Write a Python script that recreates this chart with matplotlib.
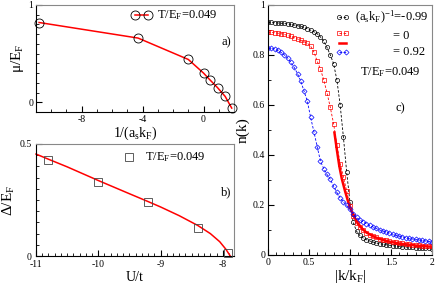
import numpy as np
import matplotlib
matplotlib.use('Agg')
import matplotlib.pyplot as plt
from matplotlib.ticker import MultipleLocator, FixedLocator

plt.rcParams['font.family'] = ['Liberation Serif', 'DejaVu Serif']
plt.rcParams['mathtext.fontset'] = 'custom'
plt.rcParams['mathtext.rm'] = 'Liberation Serif'
plt.rcParams['mathtext.it'] = 'Liberation Serif:italic'

# panel a: chemical potential vs 1/(a_s k_F)
inv_akf = [-10.8, -4.3, -1.0, 0.0, 0.42, 0.92, 1.42, 1.85]
mu = [0.82, 0.66, 0.44, 0.30, 0.23, 0.15, 0.06, -0.06]

# panel b: gap vs U/t
u_t = [-10.8, -10.0, -9.2, -8.4, -7.91]
gap = [0.429, 0.332, 0.240, 0.124, 0.012]
u_fit = [-11.0, -10.8, -10.5, -10.0, -9.5, -9.2, -9.0, -8.7, -8.4, -8.2, -8.05, -7.95, -7.88]
gap_fit = [0.455, 0.432, 0.398, 0.337, 0.278, 0.243, 0.219, 0.180, 0.136, 0.100, 0.064, 0.030, 0.0]

# panel c: momentum distribution
k = [0.00, 0.04, 0.08, 0.12, 0.16, 0.20, 0.24, 0.28, 0.32, 0.36,
     0.40, 0.44, 0.48, 0.52, 0.56, 0.60, 0.64, 0.68, 0.72, 0.76,
     0.80, 0.84, 0.88, 0.92, 0.96, 1.00, 1.04, 1.08, 1.12, 1.16,
     1.20, 1.24, 1.28, 1.32, 1.36, 1.40, 1.44, 1.48, 1.52, 1.56,
     1.60, 1.64, 1.68, 1.72, 1.76, 1.80, 1.84, 1.88, 1.92, 1.96, 2.00]
n_bcs = [0.930, 0.930, 0.929, 0.928, 0.927, 0.926, 0.924, 0.922, 0.920, 0.917,
         0.914, 0.910, 0.905, 0.899, 0.893, 0.885, 0.872, 0.855, 0.830, 0.800,
         0.765, 0.700, 0.600, 0.470, 0.330, 0.210, 0.130, 0.095, 0.078, 0.068,
         0.061, 0.056, 0.052, 0.048, 0.045, 0.043, 0.041, 0.039, 0.037, 0.036,
         0.034, 0.033, 0.032, 0.031, 0.030, 0.029, 0.028, 0.027, 0.027, 0.026, 0.025]
n_unit = [0.890, 0.890, 0.889, 0.887, 0.885, 0.882, 0.878, 0.874, 0.869, 0.864,
          0.858, 0.853, 0.847, 0.835, 0.812, 0.775, 0.743, 0.700, 0.648, 0.590,
          0.525, 0.440, 0.365, 0.312, 0.255, 0.195, 0.155, 0.127, 0.110, 0.098,
          0.089, 0.081, 0.075, 0.070, 0.065, 0.061, 0.058, 0.055, 0.052, 0.050,
          0.048, 0.046, 0.044, 0.042, 0.041, 0.039, 0.038, 0.037, 0.036, 0.035, 0.034]
n_bec = [0.827, 0.826, 0.824, 0.818, 0.810, 0.800, 0.788, 0.770, 0.750, 0.725,
         0.695, 0.655, 0.615, 0.550, 0.493, 0.433, 0.375, 0.345, 0.322, 0.303,
         0.275, 0.250, 0.228, 0.212, 0.198, 0.183, 0.163, 0.150, 0.140, 0.132,
         0.125, 0.118, 0.112, 0.106, 0.100, 0.096, 0.091, 0.087, 0.083, 0.079,
         0.075, 0.072, 0.069, 0.066, 0.064, 0.062, 0.060, 0.058, 0.056, 0.054, 0.052]
k_line = [0.81, 0.84, 0.87, 0.90, 0.94, 0.98, 1.02, 1.06, 1.10, 1.15,
          1.20, 1.30, 1.40, 1.50, 1.60, 1.70, 1.80, 1.90, 2.00]
n_line = [0.49, 0.42, 0.355, 0.305, 0.255, 0.21, 0.175, 0.148, 0.125, 0.105,
          0.090, 0.072, 0.060, 0.052, 0.046, 0.042, 0.038, 0.035, 0.033]


def style(ax):
    for s in ['top', 'right']:
        ax.spines[s].set_color('#888888')
    ax.tick_params(which='both', direction='in', top=False, right=False, labelsize=7, pad=2)
    ax.tick_params(which='major', length=4, width=0.8)
    ax.tick_params(which='minor', length=2, width=0.6)


fig = plt.figure(figsize=(4.36, 2.87), dpi=100)
ax_a = fig.add_axes([0.0826, 0.6098, 0.4541, 0.3728])
ax_b = fig.add_axes([0.0826, 0.108, 0.4541, 0.3903])
ax_c = fig.add_axes([0.6147, 0.1115, 0.3761, 0.8711])

# a)
ax_a.plot(inv_akf, mu, '-', color='red', lw=1.1, clip_on=False, zorder=2)
ax_a.plot(inv_akf, mu, 'o', mfc='none', mec='black', ms=6.5, mew=0.6, clip_on=False, zorder=3)
ax_a.set_xlim(-11, 2)
ax_a.set_ylim(-0.1, 1)
ax_a.xaxis.set_major_locator(FixedLocator([-8, -4, 0]))
ax_a.xaxis.set_minor_locator(MultipleLocator(1))
ax_a.yaxis.set_major_locator(FixedLocator([0, 1]))
ax_a.yaxis.set_minor_locator(MultipleLocator(0.1))
ax_a.set_xticklabels(['-8', '-4', '0'])
ax_a.set_ylabel('μ/E$_\\mathrm{F}$', fontsize=11, labelpad=2)
ax_a.set_xlabel(r'1/(a$_\mathrm{s}$k$_\mathrm{F}$)', fontsize=10, labelpad=1)
style(ax_a)
ax_a.plot([0.50, 0.565], [0.905, 0.905], '-', color='red', lw=1.1, transform=ax_a.transAxes)
ax_a.plot([0.50, 0.565], [0.905, 0.905], 'o', mfc='none', mec='black', ms=6.5, mew=0.6,
          transform=ax_a.transAxes)
ax_a.text(0.61, 0.905, r'T/E$_\mathrm{F}$=0.049', transform=ax_a.transAxes, fontsize=9,
          va='center', ha='left')
ax_a.text(0.935, 0.65, 'a)', transform=ax_a.transAxes, fontsize=9, va='center', ha='left')

# b)
ax_b.plot(u_fit, gap_fit, '-', color='red', lw=1.1, clip_on=False, zorder=2)
ax_b.plot(u_t, gap, 's', mfc='none', mec='#444444', ms=6, mew=0.6, clip_on=False, zorder=3)
ax_b.set_xlim(-11, -7.82)
ax_b.set_ylim(0, 0.5)
ax_b.xaxis.set_major_locator(FixedLocator([-11, -10, -9, -8]))
ax_b.xaxis.set_minor_locator(MultipleLocator(0.1))
ax_b.yaxis.set_major_locator(FixedLocator([0, 0.5]))
ax_b.yaxis.set_minor_locator(MultipleLocator(0.05))
ax_b.set_xticklabels(['-11', '-10', '-9', '-8'])
ax_b.set_yticklabels(['0', '0.5'])
ax_b.set_ylabel('Δ/E$_\\mathrm{F}$', fontsize=11, labelpad=2)
ax_b.set_xlabel('U/t', fontsize=10, labelpad=1)
style(ax_b)
ax_b.tick_params(axis='y', pad=3)
ax_b.tick_params(axis='x', pad=3)
ax_b.plot([0.472], [0.885], 's', mfc='none', mec='#444444', ms=6, mew=0.6,
          transform=ax_b.transAxes)
ax_b.text(0.55, 0.885, r'T/E$_\mathrm{F}$=0.049', transform=ax_b.transAxes, fontsize=9,
          va='center', ha='left')
ax_b.text(0.935, 0.57, 'b)', transform=ax_b.transAxes, fontsize=9, va='center', ha='left')

# c)
ax_c.plot(k, n_bcs, '--', color='black', lw=0.6, dashes=(3, 2), marker='o', ms=3,
          mfc='none', mew=0.5)
ax_c.plot(k, n_unit, '--', color='red', lw=0.6, dashes=(3, 2), marker='s', ms=3,
          mfc='none', mew=0.5)
ax_c.plot(k_line, n_line, '-', color='red', lw=1.8)
ax_c.plot(k, n_bec, '--', color='blue', lw=0.6, dashes=(3, 2), marker='D', ms=2.6,
          mfc='none', mew=0.5)
ax_c.set_xlim(0, 2)
ax_c.set_ylim(0, 1)
ax_c.set_xticks([0, 0.5, 1, 1.5, 2])
ax_c.set_xticklabels(['0', '0.5', '1', '1.5', '2'])
ax_c.set_yticks([0, 0.2, 0.4, 0.6, 0.8, 1])
ax_c.set_yticklabels(['0', '0.2', '0.4', '0.6', '0.8', '1'])
ax_c.xaxis.set_minor_locator(MultipleLocator(0.1))
ax_c.yaxis.set_minor_locator(MultipleLocator(0.1))
ax_c.set_ylabel('n(k)', fontsize=11, labelpad=2)
ax_c.set_xlabel(r'|k/k$_\mathrm{F}$|', fontsize=11, labelpad=1)
style(ax_c)

lx = [0.43, 0.475]
ax_c.plot(lx, [0.95, 0.95], '--', color='black', lw=0.6, dashes=(3, 2), marker='o', ms=3,
          mfc='none', mew=0.5, transform=ax_c.transAxes)
ax_c.plot(lx, [0.888, 0.888], '--', color='red', lw=0.6, dashes=(3, 2), marker='s', ms=3,
          mfc='none', mew=0.5, transform=ax_c.transAxes)
ax_c.plot(lx, [0.848, 0.848], '-', color='red', lw=1.8, transform=ax_c.transAxes)
ax_c.plot(lx, [0.81, 0.81], '--', color='blue', lw=0.6, dashes=(3, 2), marker='D', ms=2.6,
          mfc='none', mew=0.5, transform=ax_c.transAxes)
ax_c.text(0.53, 0.95, r'(a$_\mathrm{s}$k$_\mathrm{F}$)$^{-1}$=-0.99', transform=ax_c.transAxes,
          fontsize=9, va='center', ha='left')
ax_c.text(0.765, 0.875, '= 0', transform=ax_c.transAxes, fontsize=9, va='center', ha='left')
ax_c.text(0.765, 0.81, '= 0.92', transform=ax_c.transAxes, fontsize=9, va='center', ha='left')
ax_c.text(0.56, 0.73, r'T/E$_\mathrm{F}$=0.049', transform=ax_c.transAxes, fontsize=9,
          va='center', ha='left')
ax_c.text(0.78, 0.585, 'c)', transform=ax_c.transAxes, fontsize=9, va='center', ha='left')

fig.savefig('out.png', dpi=100)
